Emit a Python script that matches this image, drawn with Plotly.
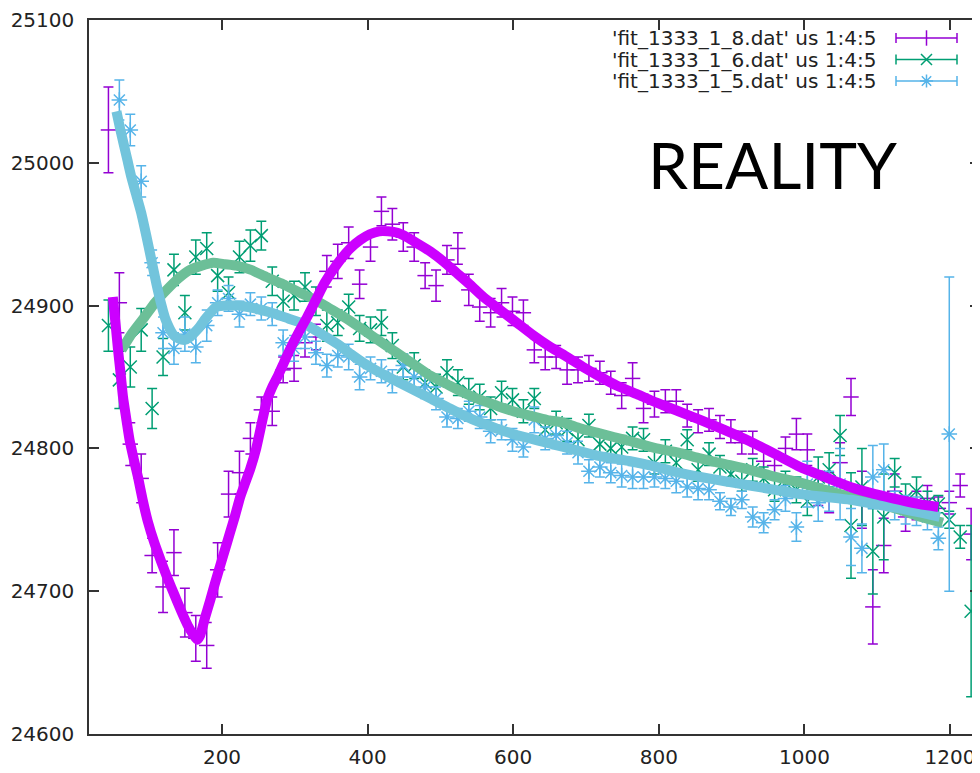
import plotly.graph_objects as go

# ---------------- data ----------------
x_start = 44
x_step = 15

# 'fit_1333_1_8.dat' (purple): y and error, k = 0..79
p_y = [25023, 24902, 24803, 24779, 24725, 24703, 24727, 24685, 24667, 24662,
       24715, 24768, 24783, 24807, 24827, 24826, 24855, 24856, 24874, 24878,
       24924, 24931, 24944, 24915, 24941, 24966, 24957, 24948, 24941, 24921,
       24914, 24932, 24940, 24911, 24899, 24895, 24902, 24896, 24895, 24869,
       24864, 24864, 24855, 24855, 24856, 24853, 24846, 24837, 24849, 24828,
       24831, 24833, 24833, 24823, 24819, 24820, 24815, 24812, 24804, 24804,
       24791, 24788, 24800, 24810, 24799, 24772, 24769, 24790, 24836, 24764,
       24689, 24732, 24770, 24752, 24760, 24765, 24758, 24762, 24774, 24740]
p_e = [30, 21, 15, 17, 12, 18, 16, 17, 16, 16,
       19, 16, 15, 11, 9, 10, 9, 9, 10, 9,
       11, 12, 11, 10, 10, 10, 11, 10, 10, 9,
       11, 10, 11, 11, 10, 10, 10, 10, 9, 9,
       9, 8, 10, 9, 9, 8, 8, 9, 11, 10,
       9, 8, 8, 8, 8, 8, 8, 8, 8, 8,
       8, 8, 8, 11, 11, 12, 14, 14, 13, 20,
       26, 19, 12, 10, 10, 9, 8, 8, 8, 18]

# 'fit_1333_1_6.dat' (green)
g_y = [24886, 24848, 24857, 24883, 24828, 24864, 24925, 24895, 24934, 24940,
       24921, 24909, 24934, 24942, 24949, 24917, 24903, 24907, 24913, 24903,
       24886, 24888, 24899, 24884, 24883, 24888, 24872, 24857, 24858, 24846,
       24843, 24853, 24846, 24840, 24836, 24828, 24839, 24834, 24826, 24835,
       24813, 24818, 24813, 24806, 24816, 24803, 24800, 24801, 24807, 24806,
       24790, 24798, 24790, 24806, 24785, 24796, 24787, 24782, 24777, 24785,
       24779, 24771, 24776, 24771, 24763, 24780, 24785, 24809, 24746, 24773,
       24728, 24752, 24783, 24765, 24770, 24762, 24761, 24750, 24738, 24686]
g_e = [18, 20, 14, 15, 14, 13, 11, 12, 12, 11,
       11, 11, 11, 11, 10, 10, 11, 10, 10, 10,
       11, 9, 9, 9, 9, 9, 9, 9, 9, 9,
       9, 9, 9, 9, 9, 8, 8, 8, 8, 7,
       8, 8, 8, 8, 8, 8, 8, 8, 8, 8,
       8, 8, 8, 7, 8, 8, 8, 8, 7, 8,
       8, 8, 8, 9, 10, 14, 12, 14, 37, 27,
       30, 30, 10, 10, 10, 8, 6, 6, 8, 60]

# 'fit_1333_1_5.dat' (blue), starts at k = 1
b_y = [25044, 25023, 24987, 24930, 24881, 24870, 24880, 24871, 24886,
       24902, 24905, 24894, 24901, 24898, 24894, 24874, 24870, 24878, 24867,
       24858, 24865, 24864, 24850, 24856, 24854, 24847, 24858, 24850, 24843,
       24835, 24822, 24821, 24826, 24822, 24812, 24813, 24806, 24801, 24820,
       24807, 24809, 24804, 24797, 24784, 24787, 24783, 24781, 24780, 24780,
       24780, 24779, 24777, 24773, 24772, 24771, 24763, 24759, 24764, 24752,
       24748, 24757, 24765, 24745, 24775, 24762, 24770, 24775, 24738, 24730,
       24780, 24785, 24760, 24757, 24756, 24752, 24737, 24810]
b_e = [14, 11, 11, 9, 11, 11, 12, 11, 11,
       9, 9, 9, 8, 8, 8, 9, 9, 8, 8,
       8, 8, 9, 9, 8, 8, 8, 8, 8, 8,
       8, 7, 7, 7, 8, 8, 7, 8, 7, 9,
       8, 9, 8, 8, 8, 7, 7, 8, 8, 8,
       7, 7, 8, 7, 8, 7, 6, 6, 6, 7,
       7, 7, 9, 10, 16, 13, 14, 25, 20, 17,
       22, 18, 10, 10, 10, 9, 8, 110]

# fitted curves
pf_x = [50, 54, 57, 61, 64, 69, 73, 79, 85, 91, 98, 107, 117, 126, 135, 144,
        153, 160, 166, 170, 177, 184, 190, 197, 204, 211, 218, 225, 232, 239,
        247, 256, 262, 269, 277, 285, 293, 305, 317, 329, 341, 358,
        376, 390, 403, 416, 428, 441, 454, 470, 486, 504, 522, 540, 559, 582,
        605, 628, 651, 674, 696, 720, 742, 770, 797, 827, 857, 890, 925, 960,
        994, 1028, 1063, 1097, 1131, 1158, 1184]
pf_y = [24906, 24886, 24870, 24851, 24836, 24819, 24806, 24792, 24779, 24764,
        24749, 24734, 24720, 24708, 24697, 24686, 24676, 24670, 24666, 24669,
        24682, 24694, 24705, 24717, 24729, 24741, 24753, 24766, 24776, 24786,
        24800, 24821, 24834, 24843, 24851, 24860, 24869, 24881, 24892, 24904,
        24916, 24929, 24940, 24946, 24950, 24952, 24952, 24951,
        24948, 24943, 24938, 24931, 24923, 24915, 24906, 24897, 24888, 24879,
        24871, 24864, 24857, 24850, 24844, 24838, 24832, 24826, 24820, 24813,
        24805, 24796, 24787, 24780, 24773, 24768, 24764, 24761, 24759]

gf_x = [62, 77, 92, 108, 124, 140, 156, 172, 188, 204, 220, 240, 261, 284,
        307, 328, 348, 371, 394, 417, 440, 463, 486, 509, 532, 555, 577, 600,
        623, 646, 669, 692, 715, 738, 761, 797, 827, 857, 891, 925, 960, 994,
        1028, 1063, 1097, 1131, 1160, 1190]
gf_y = [24869, 24881, 24891, 24902, 24911, 24919, 24925, 24928, 24930, 24929,
        24928, 24925, 24920, 24915, 24909, 24904, 24898, 24891, 24883, 24875,
        24867, 24859, 24851, 24845, 24839, 24834, 24830, 24826, 24823, 24820,
        24818, 24814, 24811, 24808, 24805, 24800, 24797, 24793, 24789, 24785,
        24780, 24776, 24771, 24766, 24762, 24757, 24752, 24748]

bf_x = [55, 60, 65, 70, 75, 82, 89, 96, 103, 110, 117, 122, 128, 134, 140,
        149, 156, 162, 169, 176, 184, 192, 207, 222, 245, 268, 291, 314, 337,
        359, 377, 394, 417, 440, 463, 486, 509, 532, 555, 577, 600, 623, 646,
        669, 692, 715, 738, 761, 797, 827, 857, 891, 925, 960, 994, 1028, 1063,
        1097, 1131, 1160, 1186]
bf_y = [25036, 25024, 25013, 25002, 24991, 24978, 24965, 24949, 24932, 24915,
        24900, 24891, 24884, 24879, 24877, 24876, 24878, 24881, 24885, 24890,
        24895, 24899, 24900, 24900, 24898, 24895, 24891, 24887, 24880, 24873,
        24866, 24860, 24853, 24847, 24841, 24835, 24829, 24823, 24818, 24814,
        24810, 24807, 24804, 24801, 24798, 24795, 24793, 24791, 24787, 24783,
        24780, 24777, 24774, 24771, 24768, 24766, 24764, 24761, 24758, 24755,
        24752]

legend_labels = ["'fit_1333_1_8.dat' us 1:4:5",
                 "'fit_1333_1_6.dat' us 1:4:5",
                 "'fit_1333_1_5.dat' us 1:4:5"]

x_range = [17.3, 1241.2]
y_range = [24600, 25100]
x_ticks = [200, 400, 600, 800, 1000, 1200]
y_ticks = [24600, 24700, 24800, 24900, 25000, 25100]

# ---------------- styling ----------------
c_purple = "#9400d3"
c_green = "#009e73"
c_blue = "#56b4e9"
c_purple_fit = "#cc00ff"
c_green_fit = "#6cbf98"
c_blue_fit = "#72c4dc"

p_x = [x_start + x_step * k for k in range(len(p_y))]
g_x = [x_start + x_step * k for k in range(len(g_y))]
b_x = [x_start + x_step * (k + 1) for k in range(len(b_y))]

fig = go.Figure()


def data_trace(x, y, e, color, symbol, size):
    return go.Scatter(
        x=x, y=y, mode="markers",
        marker=dict(symbol=symbol, size=size, color=color,
                    line=dict(color=color, width=1.5)),
        error_y=dict(type="data", array=e, visible=True, color=color,
                     thickness=1.5, width=5),
        showlegend=False, hoverinfo="skip")


fig.add_trace(data_trace(p_x, p_y, p_e, c_purple, "line-ew-open", 11))
fig.add_trace(data_trace(g_x, g_y, g_e, c_green, "x-thin-open", 13))
fig.add_trace(data_trace(b_x, b_y, b_e, c_blue, "asterisk-open", 13))

for fx, fy, col in [(gf_x, gf_y, c_green_fit), (bf_x, bf_y, c_blue_fit),
                    (pf_x, pf_y, c_purple_fit)]:
    fig.add_trace(go.Scatter(x=fx, y=fy, mode="lines",
                             line=dict(color=col, width=10, shape="spline",
                                       smoothing=0.5),
                             showlegend=False, hoverinfo="skip"))

# page offset (browser body margin) and plot geometry in screen pixels
OFF = 8
W, H = 972, 765
L, R, T, B = 81, 0, 12, 39
pw, ph = W - L - R, H - T - B


def fx_(px):
    return (px - OFF - L) / pw


def fy_(py):
    return (H - B - (py - OFF)) / ph


key_rows = [38, 59.5, 81]
key_cols = [c_purple, c_green, c_blue]
key_sym = ["line-ns-open", "x-thin-open", "asterisk-open"]
for lab, ry, col, sym in zip(legend_labels, key_rows, key_cols, key_sym):
    fig.add_trace(go.Scatter(
        x=[fx_(926.5)], y=[fy_(ry)], xaxis="x2", yaxis="y2", mode="markers",
        marker=dict(symbol=sym, size=11, color=col, line=dict(color=col, width=1.5)),
        error_x=dict(type="constant", value=fx_(957) - fx_(926.5), visible=True,
                     color=col, thickness=1.5, width=5),
        showlegend=False, hoverinfo="skip"))
    fig.add_annotation(x=fx_(878), y=fy_(ry), xref="paper", yref="paper",
                       text=lab, showarrow=False, xanchor="right", yanchor="middle",
                       font=dict(family="DejaVu Sans", size=20, color="#222222"))

fig.add_annotation(x=fx_(772), y=fy_(165), xref="paper", yref="paper",
                   text="REALITY", showarrow=False, xanchor="center", yanchor="middle",
                   font=dict(family="Lato", size=64, color="#000000"))

axis_common = dict(showgrid=False, zeroline=False, showline=True, linecolor="#333333",
                   linewidth=1.5, ticks="inside", ticklen=10, tickwidth=1.5,
                   tickcolor="#333333", mirror="ticks", automargin=False,
                   tickfont=dict(family="DejaVu Sans", size=20, color="#222222"))

fig.update_layout(
    width=W, height=H, margin=dict(l=L, r=R, t=T, b=B, autoexpand=False),
    paper_bgcolor="white", plot_bgcolor="white",
    xaxis=dict(range=x_range, tickvals=x_ticks, ticktext=[str(v) for v in x_ticks],
               ticklabelstandoff=4, **axis_common),
    yaxis=dict(range=y_range, tickvals=y_ticks, ticktext=[str(v) for v in y_ticks],
               ticklabelstandoff=9, **axis_common),
    xaxis2=dict(range=[0, 1], overlaying="x", visible=False, fixedrange=True),
    yaxis2=dict(range=[0, 1], overlaying="y", visible=False, fixedrange=True),
    showlegend=False,
)

fig.write_html("out.html")
